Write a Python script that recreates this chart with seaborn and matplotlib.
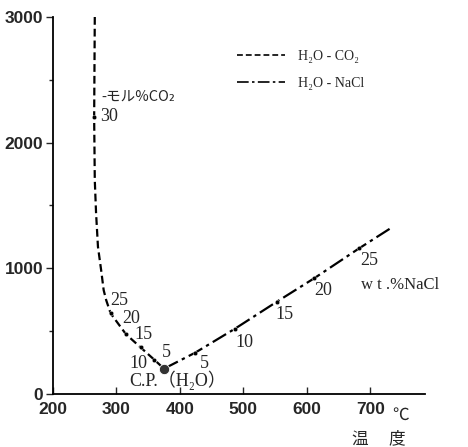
import matplotlib
matplotlib.use("Agg")
import matplotlib.pyplot as plt
import matplotlib.transforms as mtransforms
import seaborn as sns
import pandas as pd

# ---- data ----
co2_T = [266, 265, 266, 268, 271, 276, 280, 284, 291, 315, 338, 360, 375]
co2_P = [3000, 2200, 1700, 1440, 1170, 985, 825, 745, 640, 475, 370, 270, 200]
co2_pt_T = [265, 291, 315, 338, 360]
co2_pt_P = [2200, 640, 475, 370, 270]
co2_pt_lab = ["30", "25", "20", "15", "10"]

nacl_T = [375, 424, 487, 553, 611, 682, 734]
nacl_P = [200, 327, 519, 734, 918, 1157, 1325]
nacl_pt_T = [424, 487, 553, 611, 682]
nacl_pt_P = [327, 519, 734, 918, 1157]
nacl_pt_lab = ["5", "10", "15", "20", "25"]

cp_T = [375]
cp_P = [200]

x_ticks = [200, 300, 400, 500, 600, 700]
y_ticks = [0, 1000, 2000, 3000]

sns.set_style("ticks")
plt.rcParams['font.family'] = ['Liberation Serif', 'Noto Sans CJK JP', 'DejaVu Sans']

lab_co2 = "H₂O - CO₂"
lab_nacl = "H₂O - NaCl"
df = pd.concat([
    pd.DataFrame({"T": co2_T, "P": co2_P, "sys": lab_co2}),
    pd.DataFrame({"T": nacl_T, "P": nacl_P, "sys": lab_nacl}),
])

fig = plt.figure(figsize=(4.68, 4.47), dpi=100)
ax = fig.add_axes([0.113, 0.119, 0.795, 0.843])

sns.lineplot(data=df, x="T", y="P", hue="sys", style="sys", sort=False,
             palette=["black", "black"],
             dashes={lab_co2: (3.5, 1.8), lab_nacl: (7, 2, 1.5, 2)},
             linewidth=1.6, ax=ax, estimator=None)

sns.scatterplot(x=co2_pt_T + nacl_pt_T, y=co2_pt_P + nacl_pt_P, color="black",
                s=10, ax=ax, legend=False, zorder=3)
sns.scatterplot(x=cp_T, y=cp_P, color="#333333", s=55, ax=ax, legend=False, zorder=4)

ax.set_xlim(200, 786)
ax.set_ylim(0, 3000)
ax.set_xticks(x_ticks)
ax.set_yticks(y_ticks)
ax.set_yticks([500, 1500, 2500], minor=True)
ax.set_xlabel("")
ax.set_ylabel("")
sns.despine(ax=ax)
for sp in ax.spines.values():
    sp.set_linewidth(1.3)
    sp.set_color("black")
ax.tick_params(axis="x", direction="in", length=5, width=1, pad=6)
ax.tick_params(axis="y", direction="out", length=5, width=1, pad=2)
ax.tick_params(axis="y", which="minor", direction="out", length=3, width=1)
for lab in ax.get_xticklabels() + ax.get_yticklabels():
    lab.set_family("Liberation Sans")
    lab.set_fontweight("bold")
    lab.set_fontsize(12.5)

# legend
leg = ax.legend(loc="upper left", bbox_to_anchor=(0.46, 0.945), frameon=False,
                handlelength=3.5, labelspacing=1.0, fontsize=10, handletextpad=0.9)
for h in leg.get_lines():
    h.set_linewidth(1.2)

# point labels
fs = 13
ax.text(277, 2363, "-モル%CO₂", fontsize=10.5, ha="left", va="center",
        family=["Noto Sans CJK JP", "DejaVu Sans"])
co2_lab_pos = [(274, 2204), (291, 745), (309, 602), (329, 474), (320, 243)]
for (tx, ty), lab in zip(co2_lab_pos, co2_pt_lab):
    ax.text(tx, ty, lab, fontsize=fs, ha="left", va="center")
ax.text(378, 331, "5", fontsize=fs, ha="center", va="center")

nacl_lab_pos = [(439, 243), (502, 410), (565, 634), (625, 825), (698, 1063)]
for (tx, ty), lab in zip(nacl_lab_pos, nacl_pt_lab):
    ax.text(tx, ty, lab, fontsize=fs, ha="center", va="center")
ax.text(685, 865, "w t .%NaCl", fontsize=12, ha="left", va="center")
ax.text(320, 108, "C.P.（H₂O）", fontsize=13, ha="left", va="center",
        family=["Liberation Serif", "Noto Sans CJK JP"])

trans = mtransforms.blended_transform_factory(ax.transData, ax.transAxes)
ax.text(748, -0.058, "℃", fontsize=12, ha="center", va="center", transform=trans,
        family=["Noto Sans CJK JP", "DejaVu Sans"])
ax.text(713, -0.118, "温　 度", fontsize=12, ha="center", va="center", transform=trans,
        family=["Noto Sans CJK JP", "DejaVu Sans"])

fig.savefig("out.png", dpi=100)
